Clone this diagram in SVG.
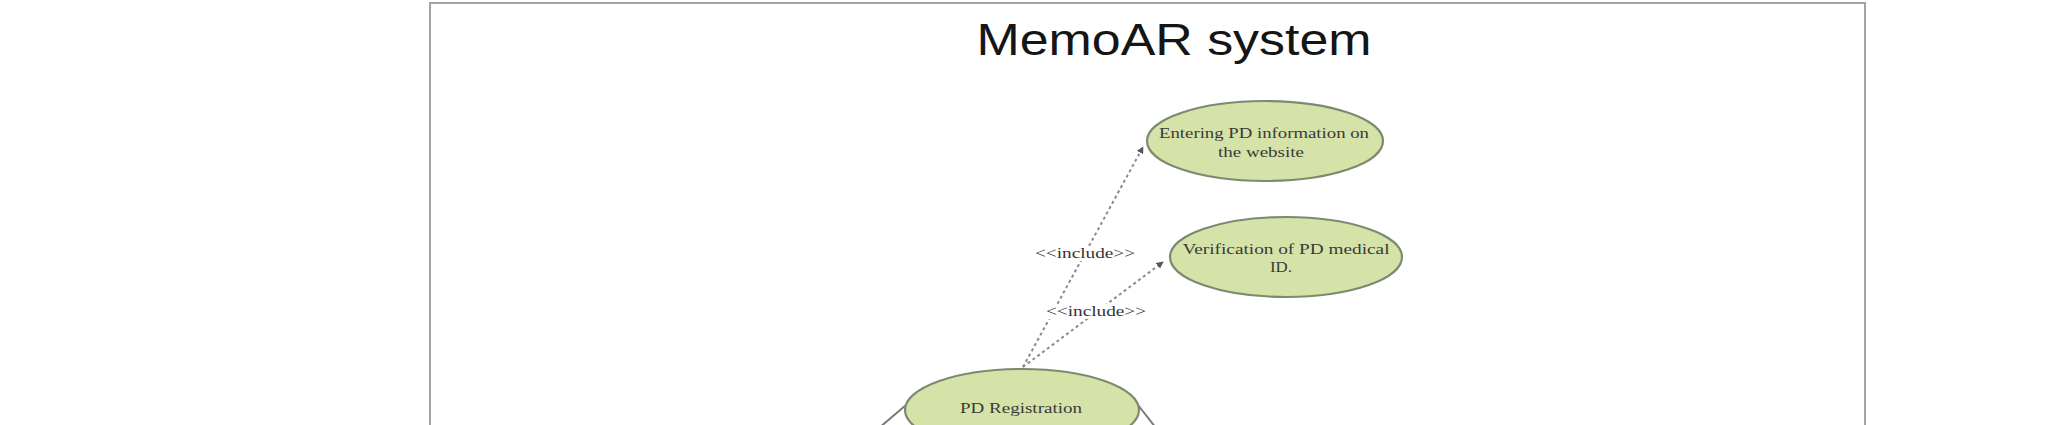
<svg xmlns="http://www.w3.org/2000/svg" width="2058" height="425" viewBox="0 0 2058 425">
<style>
.uc{fill:#d5e3a9;stroke:#7d8a70;stroke-width:2.2}
.ut{font-family:"Liberation Serif","Times New Roman",serif;font-size:15px;fill:#3a3a3a;text-anchor:middle}
.inc{stroke:#8a8a8a;stroke-width:2;stroke-dasharray:3 3;fill:none}
.assoc{stroke:#7a7a7a;stroke-width:2;fill:none}
.lbl{font-family:"Liberation Serif","Times New Roman",serif;font-size:14px;fill:#333;text-anchor:middle}
</style>
<defs>
<marker id="arr" viewBox="0 0 10 10" refX="9" refY="5" markerWidth="7" markerHeight="7" orient="auto" markerUnits="userSpaceOnUse">
<path d="M0,0 L10,5 L0,10 z" fill="#555"/>
</marker>
</defs>
<rect width="2058" height="425" fill="#ffffff"/>
<g id="frame">
<rect x="430" y="3" width="1435" height="440" fill="#ffffff" stroke="#a3a3a3" stroke-width="2"/>
<text x="1174" y="55" font-family="'Liberation Sans',Arial,sans-serif" font-size="44" fill="#151515" text-anchor="middle" textLength="395" lengthAdjust="spacingAndGlyphs">MemoAR system</text>
</g>
<g id="connectors">
<line class="inc" x1="1023" y1="367" x2="1143" y2="147" marker-end="url(#arr)"/>
<line class="inc" x1="1023" y1="367" x2="1163" y2="262" marker-end="url(#arr)"/>
<line class="assoc" x1="906" y1="405" x2="879" y2="428"/>
<line class="assoc" x1="1138" y1="405" x2="1156" y2="428"/>
<rect x="1034" y="246" width="102" height="15" fill="#ffffff"/>
<text class="lbl" x="1085" y="258" textLength="100" lengthAdjust="spacingAndGlyphs">&lt;&lt;include&gt;&gt;</text>
<rect x="1045" y="304" width="102" height="15" fill="#ffffff"/>
<text class="lbl" x="1096" y="316" textLength="100" lengthAdjust="spacingAndGlyphs">&lt;&lt;include&gt;&gt;</text>
</g>
<g id="uc-entering">
<ellipse class="uc" cx="1265" cy="141" rx="118" ry="40"/>
<text class="ut" x="1264" y="138" textLength="210" lengthAdjust="spacingAndGlyphs">Entering PD information on</text>
<text class="ut" x="1261" y="157" textLength="86" lengthAdjust="spacingAndGlyphs">the website</text>
</g>
<g id="uc-verification">
<ellipse class="uc" cx="1286" cy="257" rx="116" ry="40"/>
<text class="ut" x="1286" y="254" textLength="207" lengthAdjust="spacingAndGlyphs">Verification of PD medical</text>
<text class="ut" x="1281" y="272" textLength="22" lengthAdjust="spacingAndGlyphs">ID.</text>
</g>
<g id="uc-registration">
<ellipse class="uc" cx="1022" cy="410" rx="117" ry="41"/>
<text class="ut" x="1021" y="413" textLength="122" lengthAdjust="spacingAndGlyphs">PD Registration</text>
</g>
</svg>
